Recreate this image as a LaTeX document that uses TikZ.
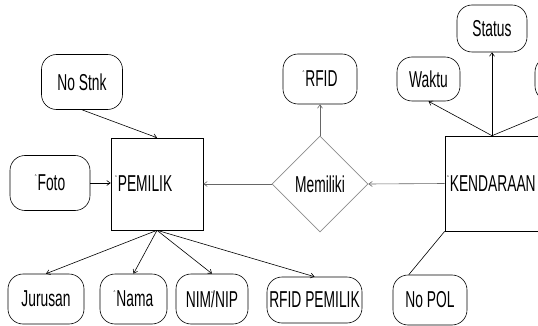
\documentclass[tikz,border=0pt]{standalone}
\usepackage{fontspec}
\setmainfont[FakeStretch=0.6]{Liberation Sans}
\usepackage{tikz}
\usetikzlibrary{arrows.meta,shapes.geometric}
\newcommand{\crt}{\raisebox{9pt}[0pt][0pt]{\fontsize{9}{9}\selectfont ˆ}\hspace{1pt}}

\begin{document}
\begin{tikzpicture}[
  x=1pt, y=-1pt,
  font=\fontsize{23}{23}\selectfont,
  arr/.style={-{Straight Barb[length=3.5pt,width=5pt]}, line width=0.6pt},
  grarr/.style={arr, draw=black!60},
  attr/.style={draw, rounded corners=15pt, inner sep=0pt, line width=0.6pt},
  ent/.style={draw, rectangle, inner sep=2pt, line width=0.6pt},
  rel/.style={draw=black!45, diamond, aspect=1, inner sep=0pt, minimum size=96pt, line width=0.6pt}
]
\useasboundingbox (0,0) rectangle (538,326);
\clip (0,0) rectangle (538,326);

% PEMILIK side
\node[ent, minimum width=92pt, minimum height=92pt, text width=88pt, align=left] (pemilik) at (157,184) {\hspace{2pt}\crt PEMILIK};
\node[attr, minimum width=81pt, minimum height=55pt] (nostnk) at (82,82) {No Stnk};
\node[attr, minimum width=80pt, minimum height=55pt] (foto) at (50,183) {\crt Foto};
\node[attr, minimum width=76pt, minimum height=50pt] (jurusan) at (46,299) {Jurusan};
\node[attr, minimum width=67pt, minimum height=50pt] (nama) at (133.5,299) {\crt Nama};
\node[attr, minimum width=72pt, minimum height=50pt] (nimnip) at (212,299) {NIM\rlap{\crt}/NIP};
\node[attr, minimum width=95pt, minimum height=46pt] (rfidpemilik) at (314.5,300) {RFID PEMILIK};
\draw[arr] (nostnk.south) -- (pemilik.north);
\draw[arr] (foto.east) -- (pemilik.west |- foto.east);
\draw[arr] (pemilik.south) -- (jurusan.north);
\draw[arr] (pemilik.south) -- (nama.north);
\draw[arr] (pemilik.south) -- (nimnip.north);
\draw[arr] (pemilik.south) -- (rfidpemilik.north);

% relation
\node[rel] (memiliki) at (320,184) {Memiliki};
\node[attr, minimum width=74pt, minimum height=50pt] (rfid) at (320,79) {\crt RFID};
\draw[grarr] (memiliki.west) -- (pemilik.east);
\draw[grarr] (memiliki.north) -- (rfid.south);

% KENDARAAN side
\node[ent, minimum width=94pt, minimum height=95pt, text width=90pt, align=left] (kendaraan) at (492,183.5) {\crt KENDARAAN};
\node[attr, minimum width=63pt, minimum height=44pt] (waktu) at (428.5,79) {Waktu};
\node[attr, minimum width=70pt, minimum height=47pt] (status) at (492,28.5) {Status};
\node[attr, minimum width=80pt, minimum height=44pt] (lain) at (575,79) {};
\node[attr, minimum width=74pt, minimum height=50pt] (nopol) at (430,300) {No POL};
\draw[grarr] (kendaraan.west) -- (memiliki.east);
\draw[arr] (kendaraan.north) -- (waktu.south);
\draw[arr] (kendaraan.north) -- (status.south);
\draw[arr] (kendaraan.north) -- (lain.south);
\draw[line width=0.6pt] (kendaraan.south west) -- (nopol.130);
\end{tikzpicture}
\end{document}
